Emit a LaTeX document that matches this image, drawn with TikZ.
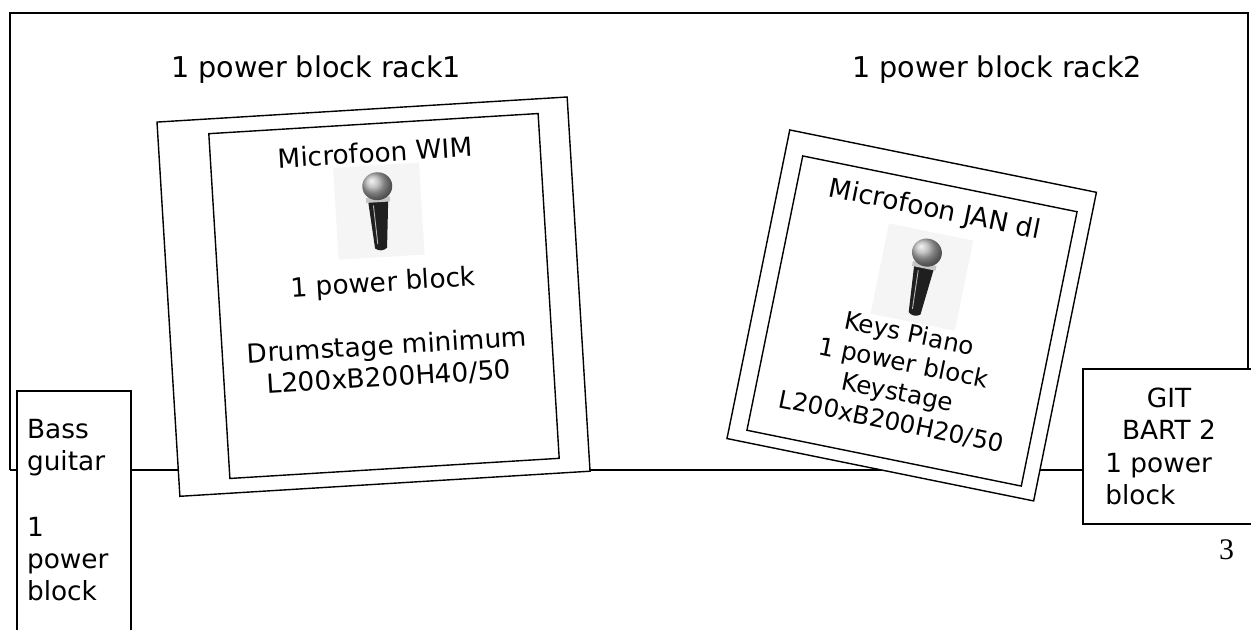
\documentclass[tikz,border=0pt]{standalone}
\usepackage{fontspec}
\setmainfont{DejaVu Sans}
\newfontfamily\pagenumfont{Liberation Serif}
\usepackage{tikz}

\tikzset{
  mike/.pic={
    \fill[black!4] (-43,-46) rectangle (43,46);
    \fill[black!88] (-10,-10) -- (10,-10) -- (6,37) to[bend left=40] (-6,37) -- cycle;
    \draw[gray!55, line width=0.5pt] (-5,-6) -- (-3,33);
    \fill[gray!45] (-12,-14) rectangle (12,-9);
    \shade[ball color=gray!60] (0,-25) ellipse [x radius=0.3cm, y radius=0.28cm];
  }
}

\begin{document}
\begin{tikzpicture}[
  x=0.02cm, y=-0.02cm,
  stage/.style={line width=1pt},
  rackbox/.style={draw, fill=white, line width=0.8pt, inner sep=0pt},
  sidebox/.style={draw, fill=white, line width=0.9pt, inner sep=0pt},
  boxtext/.style={font=\fontsize{15}{18}\selectfont, align=center, inner sep=0pt},
  heading/.style={font=\fontsize{16.3}{19.5}\selectfont, inner sep=0pt}
]
\useasboundingbox (0,0) rectangle (1251,629);

% stage outline
\coordinate (stagebl) at (10,470);
\coordinate (stagetl) at (10,13);
\coordinate (stagetr) at (1248,13);
\coordinate (gitcorner) at (1082,368);
\draw[stage] (stagebl) -- (stagetl) -- (stagetr) -- (stagetr |- gitcorner);
\draw[stage] (stagebl) -- (stagebl -| gitcorner);

\node[heading, anchor=base] (rackone) at (316,77) {1 power block rack1};
\node[heading, anchor=base] (racktwo) at (997,77) {1 power block rack2};

% drum riser
\begin{scope}[shift={(384,296)}, rotate=3.5, transform shape]
  \node[rackbox, minimum width=8.22cm, minimum height=7.5cm] (drumrack) at (-10.5,0) {};
  \node[rackbox, minimum width=6.6cm, minimum height=6.91cm] (drumstage) at (0,0) {};
  \node[boxtext] (drummic) at (0,-144) {Microfoon WIM};
  \pic (drumphoto) at (0,-85) {mike};
  \node[boxtext] (drumpower) at (0,34) {1 power block\\[18pt]Drumstage minimum\\L200xB200H40/50};
\end{scope}

% key riser
\begin{scope}[shift={(912,321)}, rotate=-11.5, transform shape]
  \node[rackbox, minimum width=6.26cm, minimum height=6.3cm] (keyrack) at (-1.4,-5.4) {};
  \node[rackbox, minimum size=5.6cm] (keystage) at (0,0) {};
  \node[boxtext] (keymic) at (0,-113) {Microfoon JAN dl};
  \pic (keyphoto) at (1,-45) {mike};
  \node[boxtext, font=\fontsize{14}{17}\selectfont] (keypower) at (0,58) {Keys Piano\\1 power block\\Keystage\\L200xB200H20/50};
\end{scope}

% bass
\node[sidebox, anchor=north west, minimum width=2.28cm, minimum height=5.4cm] (bassbox) at (16,390) {};
\node[boxtext, align=left, anchor=north west] (basstext) at (26.7,419) {Bass\\guitar\\[20pt]1\\power\\block};

% guitar
\node[sidebox, anchor=north west, minimum width=3.6cm, minimum height=3.1cm] (gitbox) at (gitcorner) {};
\node[boxtext, anchor=north] (gitname) at (1169,388) {GIT\\BART 2};
\node[boxtext, align=left, anchor=north west] (gitpower) at (1105,453) {1 power\\block};

\node[font=\pagenumfont\fontsize{17}{20}\selectfont, anchor=base, inner sep=0pt] (pagenum) at (1226.5,559) {3};
\end{tikzpicture}
\end{document}
